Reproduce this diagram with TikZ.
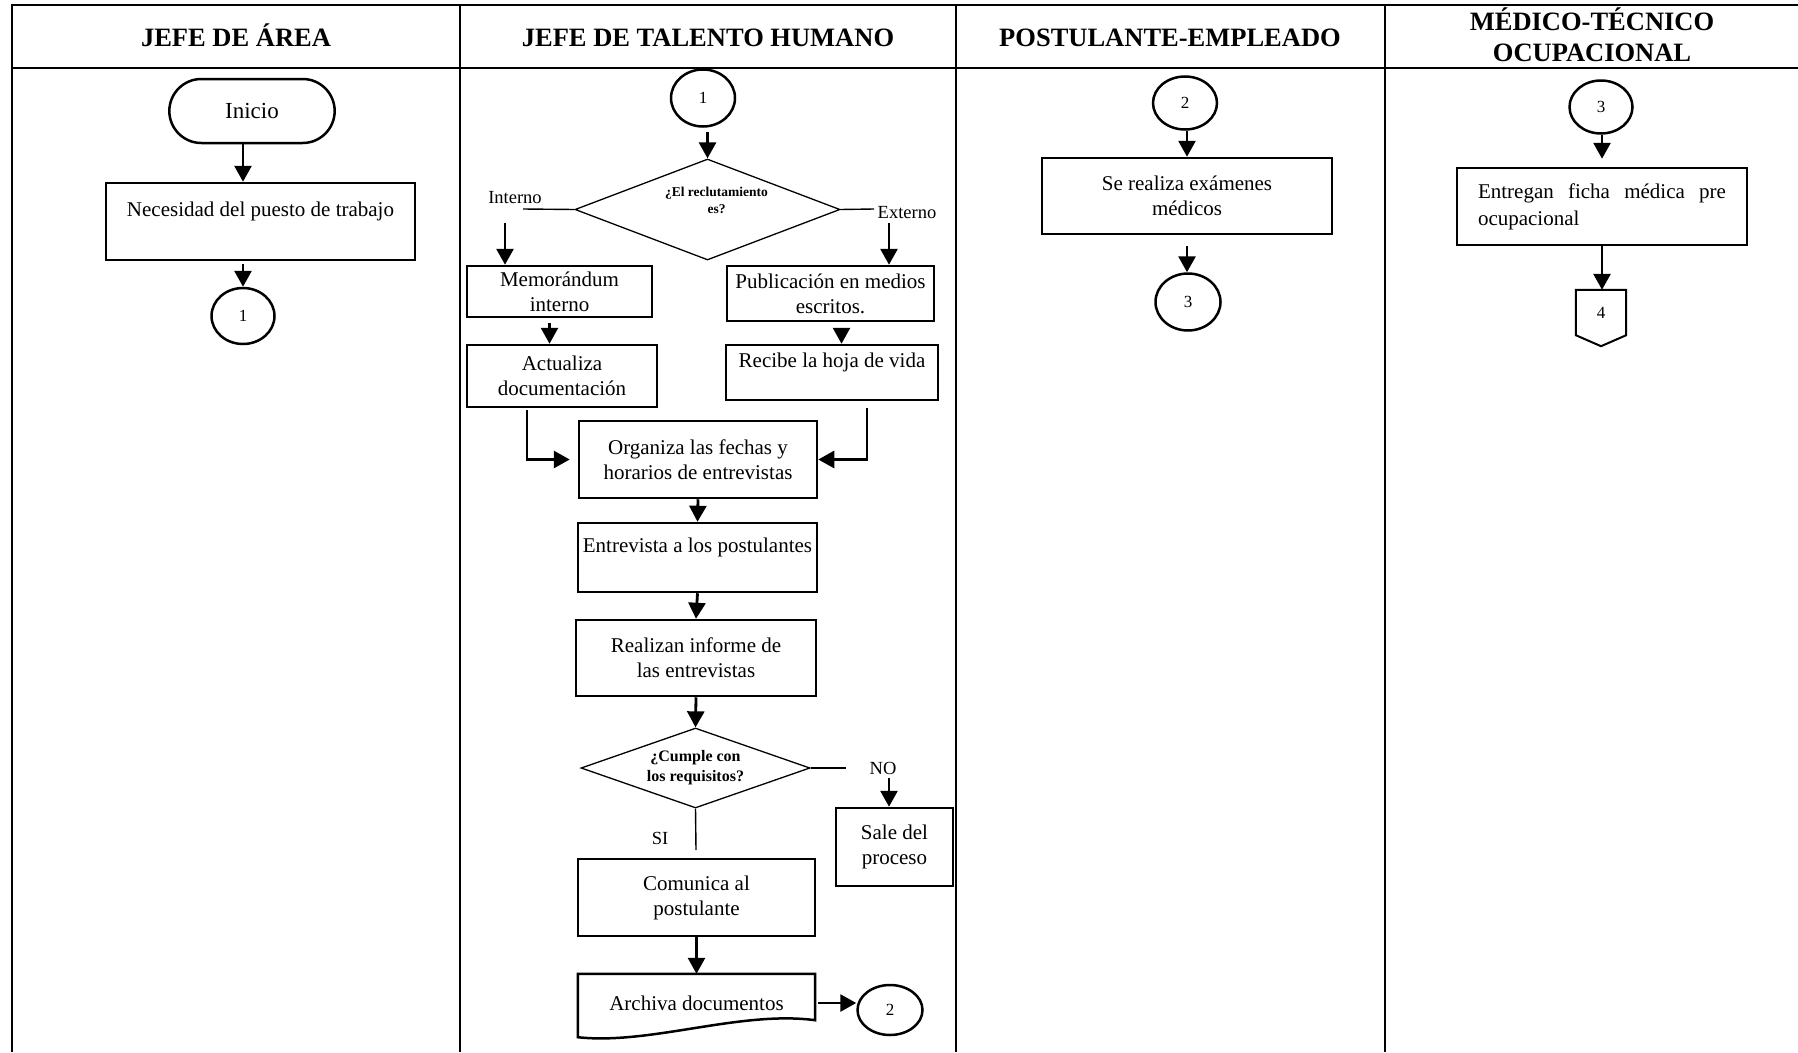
\documentclass[tikz,border=0pt]{standalone}
\usepackage{fontspec}
\setmainfont{Liberation Serif}
\usetikzlibrary{shapes.geometric,shapes.misc,arrows.meta}

\tikzset{
  tabla/.style={line width=2.6pt},
  titulo/.style={font=\bfseries\fontsize{26.5}{31}\selectfont, align=center},
  caja/.style={draw, line width=2.5pt, inner sep=2pt, align=center, font=\fontsize{21}{25}\selectfont},
  inicio/.style={draw, rounded rectangle, line width=2.5pt, minimum width=172pt, minimum height=64pt, font=\fontsize{23}{27}\selectfont},
  conector/.style={draw, ellipse, line width=2.5pt, inner sep=0pt, font=\fontsize{17}{20}\selectfont},
  decision/.style={draw, diamond, aspect=2.6, line width=1.3pt, inner sep=0pt, align=center},
  etiqueta/.style={font=\fontsize{18.5}{22}\selectfont},
  linea/.style={line width=1.4pt},
  flecha/.style={line width=2.8pt, -{Triangle[length=16pt,width=17pt]}}
}

\begin{document}
\begin{tikzpicture}[x=1pt,y=-1pt]
\useasboundingbox (0,0) rectangle (1798,1052);

% tabla de carriles
\draw[tabla] (12,1052) |- (1798,5);
\draw[tabla] (12,68) -- (1798,68);
\foreach \x in {460,956,1385} \draw[tabla] (\x,5) -- (\x,1052);

\node[titulo, anchor=base] (t1) at (236,46) {JEFE DE ÁREA};
\node[titulo, anchor=base] (t2) at (708,46) {JEFE DE TALENTO HUMANO};
\node[titulo, anchor=base] (t3) at (1170,46) {POSTULANTE-EMPLEADO};
\node[titulo] (t4) at (1592,34.5) {MÉDICO-TÉCNICO\\OCUPACIONAL};

% jefe de area
\node[inicio] (inicio) at (252,111) {Inicio};
\node[caja, minimum width=309pt, minimum height=77pt] (necesidad) at (260.5,221.5) {Necesidad del puesto de trabajo\\\mbox{}};
\node[conector, minimum width=63pt, minimum height=56pt] (c1a) at (243,316) {1};
\draw[flecha] (c1a |- inicio.south) -- (c1a |- necesidad.north);
\draw[flecha] ([yshift=-3pt]c1a |- necesidad.south) -- (c1a.north);

% jefe de talento humano
\node[conector, minimum width=64pt, minimum height=57pt] (c1b) at (703,98) {1};
\node[decision, minimum width=265pt, minimum height=101pt,
  label={[font=\bfseries\fontsize{13.5}{17}\selectfont, align=center, xshift=9pt, yshift=9pt]center:{¿El reclutamiento\\es?}}] (reclut) at (707.5,209.5) {};
\draw[flecha] ([yshift=-4pt]reclut.north |- c1b.south) -- (reclut.north);

\node[etiqueta] (interno) at (515,198) {Interno};
\node[etiqueta] (externo) at (907,213) {Externo};
\coordinate (pi) at (523,209);
\coordinate (pe) at (874,209);
\draw[linea] (reclut.west) -- (pi);
\draw[linea] (reclut.east) -- (pe);

\node[caja, minimum width=185pt, minimum height=51pt] (memo) at (559.5,291.5) {Memorándum\\interno};
\node[caja, minimum width=207pt, minimum height=55pt] (publica) at (830.5,293.5) {Publicación en medios\\escritos.};
\coordinate (fi) at (505,223);
\coordinate (fe) at (889,223);
\draw[flecha] (fi) -- (fi |- memo.north);
\draw[flecha] (fe) -- (fe |- publica.north);

\node[caja, minimum width=190pt, minimum height=62pt] (actualiza) at (562,376) {Actualiza\\documentación};
\node[caja, minimum width=212pt, minimum height=55pt] (recibe) at (832,372.5) {Recibe la hoja de vida\\\mbox{}};
\draw[flecha] ([xshift=-10pt,yshift=-5pt]memo.south) -- ([xshift=-10pt]memo.south |- actualiza.north);
\draw[flecha] ([xshift=11pt,yshift=-6pt]publica.south) -- ([xshift=11pt]publica.south |- recibe.north);

\node[caja, minimum width=238pt, minimum height=77pt] (organiza) at (698,459.5) {Organiza las fechas y\\horarios de entrevistas};
\draw[flecha] ([xshift=-35pt,yshift=-2pt]actualiza.south) |- ([xshift=-8pt]organiza.west);
\draw[flecha] ([xshift=35pt,yshift=-7pt]recibe.south) |- (organiza.east);

\node[caja, minimum width=239pt, minimum height=69pt] (entrevista) at (697.5,557.5) {Entrevista a los postulantes\\\mbox{}};
\node[caja, minimum width=240pt, minimum height=76pt] (informe) at (696,658) {Realizan informe de\\las entrevistas};
\draw[flecha] (organiza.south) -- (entrevista.north);
\draw[flecha] (entrevista.south) -- (informe.north);

\node[decision, minimum width=229pt, minimum height=80pt, font=\bfseries\fontsize{16}{20}\selectfont] (cumple) at (695.5,768) {¿Cumple con\\los requisitos?};
\draw[flecha] (informe.south) -- (cumple.north);

\node[etiqueta] (no) at (883,768) {NO};
\coordinate (pn) at (846,768);
\coordinate (fn) at (889,778);
\draw[linea] (cumple.east) -- (pn);
\node[caja, minimum width=117pt, minimum height=78pt] (sale) at (894.5,847) {Sale del\\proceso};
\draw[flecha] (fn) -- (fn |- sale.north);

\node[etiqueta] (si) at (660,838) {SI};
\coordinate (ps) at (696,850);
\draw[linea] (cumple.south) -- (ps);
\node[caja, minimum width=237pt, minimum height=77pt] (comunica) at (696.5,897.5) {Comunica al\\postulante};

% documento con borde ondulado
\node[minimum width=237pt, minimum height=58pt, inner sep=0pt, font=\fontsize{21}{25}\selectfont] (archiva) at (696.5,1003) {Archiva documentos};
\draw[line width=2.5pt] ([yshift=-5pt]archiva.south west) |- (archiva.north east) -- ([yshift=12pt]archiva.south east)
  .. controls ([xshift=-75pt,yshift=22pt]archiva.south east) and ([xshift=72pt,yshift=-13pt]archiva.south west) .. ([yshift=-5pt]archiva.south west) -- cycle;
\draw[flecha] (comunica.south) -- (comunica.south |- archiva.north);

\node[conector, minimum width=65pt, minimum height=50pt] (c2b) at (890,1010) {2};
\draw[flecha] ([xshift=3pt]archiva.east) -- (archiva.east -| c2b.west);

% postulante-empleado
\node[conector, minimum width=64pt, minimum height=53pt] (c2a) at (1185,103) {2};
\node[caja, minimum width=290pt, minimum height=76pt] (examenes) at (1187,196) {Se realiza exámenes\\médicos};
\node[conector, minimum width=65pt, minimum height=57pt] (c3a) at (1188,302) {3};
\draw[flecha] (examenes.north |- c2a.south) -- (examenes.north);
\draw[flecha] ([yshift=-11pt]examenes.south) -- (examenes.south |- c3a.north);

% medico-tecnico ocupacional
\node[caja, minimum width=290pt, minimum height=77pt, text width=248pt, inner xsep=21pt, align=left,
  font=\fontsize{21}{27}\selectfont] (ficha) at (1602,206.5) {\hbox to 248pt{Entregan\hfill ficha\hfill médica\hfill pre}\\ocupacional};
\node[conector, minimum width=63pt, minimum height=53pt] (c3b) at (1601,107) {3};
\draw[flecha] (ficha.north |- c3b.south) -- ([yshift=8pt]ficha.north);

% conector fuera de pagina
\node[minimum width=50pt, minimum height=45pt, inner sep=0pt, font=\fontsize{17}{20}\selectfont] (c4) at (1601,312.5) {4};
\draw[line width=2pt] (c4.south west) |- (c4.north east) -- (c4.south east) -- ([yshift=-11pt]c4.south) -- cycle;
\draw[flecha] (ficha.south) -- (ficha.south |- c4.north);
\end{tikzpicture}
\end{document}
